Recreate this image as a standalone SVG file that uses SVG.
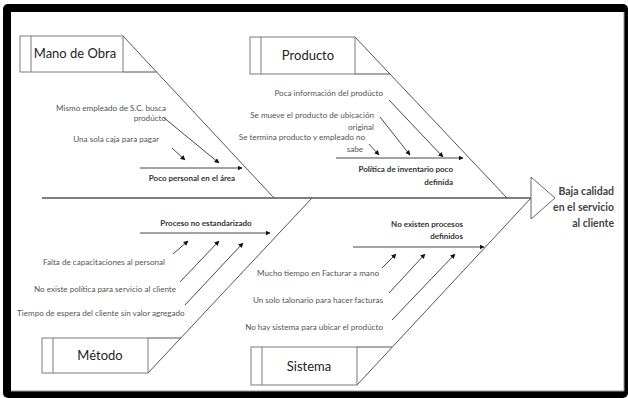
<svg xmlns="http://www.w3.org/2000/svg" width="628" height="398" viewBox="0 0 628 398">
<style>
.box{fill:#fff;stroke:#7a7a7a;stroke-width:1}
.bone{fill:none;stroke:#555;stroke-width:1}
.spine{fill:none;stroke:#555;stroke-width:1.6}
.arr{fill:none;stroke:#333;stroke-width:0.9;marker-end:url(#ah)}
.lbl{font-family:Lato,"Liberation Sans",sans-serif;font-size:13px;fill:#222;text-anchor:middle}
.c{font-family:Lato,"Liberation Sans",sans-serif;font-size:8.1px;fill:#555}
.b{font-family:Lato,"Liberation Sans",sans-serif;font-size:8px;font-weight:bold;fill:#333}
.h{font-family:Lato,"Liberation Sans",sans-serif;font-size:10.5px;font-weight:bold;fill:#444;text-anchor:end}
.r{text-anchor:end}
.m{text-anchor:middle}
</style>
<defs>
<marker id="ah" viewBox="0 0 10 10" refX="9" refY="5" markerWidth="5" markerHeight="5" markerUnits="userSpaceOnUse" orient="auto">
<path d="M0,0 L10,5 L0,10 z" fill="#111"/>
</marker>
</defs>
<rect x="0" y="0" width="628" height="398" fill="#fff"/>
<rect x="3" y="4" width="625" height="394" rx="5" fill="#000"/>
<rect x="11" y="12" width="613" height="379" fill="#fff"/>
<path d="M624,12 V391 H11" fill="none" stroke="#999" stroke-width="1"/>

<g id="connectors">
<line class="spine" x1="42" y1="198" x2="531" y2="198"/>
<path class="bone" d="M123,36 L274,198"/>
<path class="bone" d="M123,72 H156.6"/>
<path class="bone" d="M355,37 L507,198"/>
<path class="bone" d="M355,74 H390"/>
<path class="bone" d="M148,373 L312,198"/>
<path class="bone" d="M148,338 H181"/>
<path class="bone" d="M357,385 L531,198"/>
<path class="bone" d="M357,347 H392"/>
<line class="arr" x1="140" y1="168" x2="242" y2="168"/>
<line class="arr" x1="163" y1="117" x2="219" y2="163"/>
<line class="arr" x1="172" y1="148" x2="185" y2="160"/>
<line class="arr" x1="336" y1="158" x2="463" y2="158"/>
<line class="arr" x1="389" y1="100" x2="443" y2="157"/>
<line class="arr" x1="380" y1="117" x2="410" y2="155"/>
<line class="arr" x1="369" y1="144" x2="379" y2="155"/>
<line class="arr" x1="140" y1="233" x2="270" y2="233"/>
<line class="arr" x1="173" y1="254" x2="188" y2="241"/>
<line class="arr" x1="180" y1="282" x2="219" y2="241"/>
<line class="arr" x1="185" y1="305" x2="243" y2="243"/>
<line class="arr" x1="353" y1="247" x2="484" y2="247"/>
<line class="arr" x1="382" y1="268" x2="396" y2="254"/>
<line class="arr" x1="389" y1="293" x2="425" y2="254"/>
<line class="arr" x1="392" y1="320" x2="455" y2="254"/>
</g>

<g id="head">
<path d="M531,177 L555,198 L531,219 Z" fill="#fff" stroke="#666" stroke-width="1"/>
<text class="h" x="614" y="195">Baja calidad</text>
<text class="h" x="614" y="211">en el servicio</text>
<text class="h" x="614" y="227">al cliente</text>
</g>

<g id="mano-de-obra">
<rect class="box" x="20" y="36" width="103" height="36"/>
<line class="box" x1="31" y1="36" x2="31" y2="72"/>
<text class="lbl" x="75" y="58">Mano de Obra</text>
</g>
<g id="producto">
<rect class="box" x="250" y="37" width="105" height="37"/>
<line class="box" x1="261" y1="37" x2="261" y2="74"/>
<text class="lbl" x="308" y="60">Producto</text>
</g>
<g id="metodo">
<rect class="box" x="42" y="338" width="106" height="35"/>
<line class="box" x1="53" y1="338" x2="53" y2="373"/>
<text class="lbl" x="100" y="360">Método</text>
</g>
<g id="sistema">
<rect class="box" x="251" y="347" width="106" height="38"/>
<line class="box" x1="262" y1="347" x2="262" y2="385"/>
<text class="lbl" x="309" y="371">Sistema</text>
</g>

<g id="causes-mano-de-obra">
<text class="c r" x="166" y="111">Mismo empleado de S.C. busca</text>
<text class="c r" x="166" y="121">prodúcto</text>
<text class="c r" x="159" y="142">Una sola caja para pagar</text>
<text class="b m" x="192" y="181">Poco personal en el área</text>
</g>
<g id="causes-producto">
<text class="c r" x="383" y="96">Poca información del prodúcto</text>
<text class="c r" x="374" y="118">Se mueve el producto de ubicación</text>
<text class="c r" x="374" y="130">original</text>
<text class="c r" x="365" y="140">Se termina producto y empleado no</text>
<text class="c r" x="363" y="152">sabe</text>
<text class="b r" x="453" y="172">Política de inventario poco</text>
<text class="b r" x="453" y="185">definida</text>
</g>
<g id="causes-metodo">
<text class="b m" x="206" y="226">Proceso no estandarizado</text>
<text class="c" x="43" y="265">Falta de capacitaciones al personal</text>
<text class="c" x="34" y="292">No existe política para servicio al cliente</text>
<text class="c" x="17" y="316">Tiempo de espera del cliente sin valor agregado</text>
</g>
<g id="causes-sistema">
<text class="b r" x="463" y="227">No existen procesos</text>
<text class="b r" x="463" y="239">definidos</text>
<text class="c r" x="379" y="276">Mucho tiempo en Facturar a mano</text>
<text class="c r" x="383" y="303">Un solo talonario para hacer facturas</text>
<text class="c r" x="383" y="330">No hay sistema para ubicar el prodúcto</text>
</g>
</svg>
